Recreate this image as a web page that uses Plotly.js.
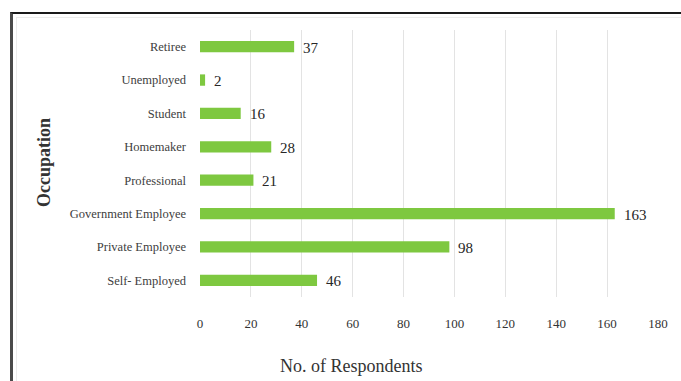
<!DOCTYPE html>
<html>
<head>
<meta charset="utf-8">
<script src="https://cdn.plot.ly/plotly-3.0.1.min.js"></script>
<style>
  html, body { margin: 0; padding: 0; background: #fff; }
  #wrap { position: relative; width: 681px; height: 381px; overflow: hidden; }
  #chart { position: absolute; left: 0; top: 0; width: 681px; height: 381px; }
  #frame { position: absolute; left: 10px; top: 12px; width: 700px; height: 400px;
           border-left: 3px solid #4a4a4a; border-top: 2px solid #1a1a1a; pointer-events: none; }
  #inner { position: absolute; left: 16px; top: 17px; width: 700px; height: 400px;
           border-left: 1px solid #ececec; border-top: 1px solid #ececec; pointer-events: none; }
</style>
</head>
<body>
<div id="wrap">
  <div id="chart"></div>
  <div id="inner"></div>
  <div id="frame"></div>
</div>
<script>
const categories = ["Self- Employed", "Private Employee", "Government Employee", "Professional",
                    "Homemaker", "Student", "Unemployed", "Retiree"];
const respondents = [46, 98, 163, 21, 28, 16, 2, 37];
const xTicks = [0, 20, 40, 60, 80, 100, 120, 140, 160, 180];
const xTickLabels = ["0", "20", "40", "60", "80", "100", "120", "140", "160", "180"];

const serif = "'Liberation Serif', serif";

const annotations = categories.map((c, i) => ({
  x: respondents[i], y: c, xref: "x", yref: "y",
  text: String(respondents[i]), showarrow: false,
  xanchor: "left", yanchor: "middle", xshift: 7, yshift: -1,
  font: { family: serif, size: 15, color: "#262626" }
}));
annotations.push({
  xref: "paper", yref: "paper", x: (351 - 200) / 458, y: -69 / 267,
  xanchor: "center", yanchor: "middle", showarrow: false,
  text: "No. of Respondents", font: { family: serif, size: 18, color: "#333" }
});
annotations.push({
  xref: "paper", yref: "paper", x: (44 - 200) / 458, y: (297 - 163) / 267,
  xanchor: "center", yanchor: "middle", showarrow: false, textangle: -90,
  text: "<b>Occupation</b>", font: { family: serif, size: 18, color: "#333" }
});

const trace = {
  type: "bar", orientation: "h",
  x: respondents, y: categories,
  marker: { color: "#7ec840" },
  hoverinfo: "x+y"
};

const layout = {
  width: 681, height: 381,
  margin: { l: 200, r: 23, t: 30, b: 84 },
  paper_bgcolor: "#ffffff", plot_bgcolor: "#ffffff",
  bargap: 0.66,
  showlegend: false,
  font: { family: serif },
  xaxis: {
    range: [0, 180], tickvals: xTicks, ticktext: xTickLabels,
    showgrid: true, gridcolor: "#e3e3e3", gridwidth: 1,
    zeroline: false, showline: false, ticks: "",
    ticklabelstandoff: 17,
    tickfont: { family: serif, size: 13, color: "#333" },
    fixedrange: true
  },
  yaxis: {
    type: "category", categoryorder: "array", categoryarray: categories,
    showgrid: false, zeroline: false, showline: false, ticks: "",
    ticklabelstandoff: 13,
    tickfont: { family: serif, size: 12.5, color: "#404040" },
    automargin: false,
    fixedrange: true
  },
  annotations: annotations
};

Plotly.newPlot("chart", [trace], layout, { displayModeBar: false, staticPlot: true });
</script>
</body>
</html>
